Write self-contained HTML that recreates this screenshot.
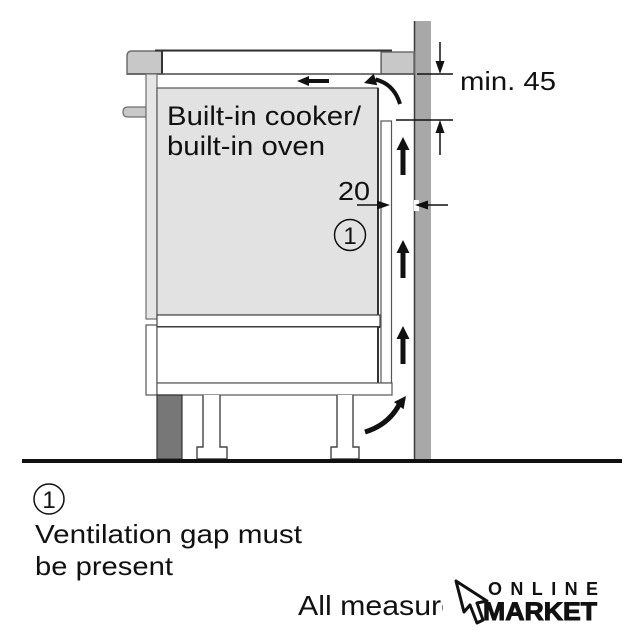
<!DOCTYPE html>
<html>
<head>
<meta charset="utf-8">
<style>
  html, body { margin: 0; padding: 0; background: #ffffff; }
  body { width: 642px; height: 640px; overflow: hidden; }
  svg { display: block; }
  text { font-family: "Liberation Sans", Arial, sans-serif; fill: #111; }
</style>
</head>
<body>
<svg width="642" height="640" viewBox="0 0 642 640" xmlns="http://www.w3.org/2000/svg">
  <rect x="0" y="0" width="642" height="640" fill="#ffffff"/>

  <!-- Wall -->
  <rect x="414" y="21" width="17" height="438" fill="#a8a8a8"/>
  <line x1="414.5" y1="21" x2="414.5" y2="459" stroke="#3a3a3a" stroke-width="1.5"/>
  <rect x="414" y="200" width="5" height="11" fill="#ffffff"/>

  <!-- Countertop left block (rounded) -->
  <path d="M132,51 H163 V74 H127 V56 Q127,51 132,51 Z" fill="#c8c8c8" stroke="#6e6e6e" stroke-width="1.5"/>
  <!-- Countertop right block -->
  <rect x="381" y="52" width="33" height="22" fill="#c8c8c8" stroke="#6e6e6e" stroke-width="1.5"/>
  <!-- Hob -->
  <rect x="162" y="51" width="219" height="23" fill="#ffffff" stroke="#555" stroke-width="1.2"/>
  <line x1="155" y1="50.5" x2="392" y2="50.5" stroke="#333" stroke-width="2"/>
  <line x1="162" y1="51" x2="162" y2="74" stroke="#333" stroke-width="2"/>
  <line x1="127" y1="74" x2="414" y2="74" stroke="#555" stroke-width="1.5"/>

  <!-- Handle -->
  <path d="M128,107 H146 V117 H128 Q123,117 123,112 Q123,107 128,107 Z" fill="#c8c8c8" stroke="#6e6e6e" stroke-width="1.2"/>

  <!-- Left side panel (upper) -->
  <rect x="146" y="74" width="11" height="245" fill="#e6e6e6" stroke="#6e6e6e" stroke-width="1.2"/>
  <!-- Left side panel (lower) -->
  <rect x="146" y="325" width="11" height="70" fill="#ffffff" stroke="#555" stroke-width="1.2"/>

  <!-- Oven body -->
  <rect x="157" y="88" width="221" height="227" fill="#e2e2e2" stroke="#555" stroke-width="1.2"/>
  <line x1="378" y1="88" x2="378" y2="383" stroke="#333" stroke-width="2"/>

  <!-- Bar under oven -->
  <rect x="157" y="315" width="223" height="12" fill="#ffffff" stroke="#444" stroke-width="1.2"/>
  <line x1="157" y1="327" x2="380" y2="327" stroke="#222" stroke-width="2"/>
  <!-- Drawer -->
  <rect x="157" y="327" width="221" height="56" fill="#ffffff" stroke="#555" stroke-width="1.2"/>
  <line x1="378" y1="327" x2="378" y2="383" stroke="#333" stroke-width="2"/>

  <!-- Right narrow panel -->
  <rect x="381" y="121" width="10.5" height="262" fill="#ffffff" stroke="#555" stroke-width="1.2"/>
  <!-- Base bar -->
  <rect x="157" y="383" width="235" height="12" fill="#ffffff" stroke="#555" stroke-width="1.2"/>

  <!-- Dark plinth -->
  <rect x="157" y="395" width="25" height="64" fill="#777777" stroke="#333" stroke-width="1.2"/>
  <!-- Legs -->
  <path d="M203,395 V447 H197 V459 H227 V447 H220 V395" fill="#ffffff" stroke="#444" stroke-width="1.4"/>
  <path d="M337,395 V447 H331 V459 H359 V447 H353 V395" fill="#ffffff" stroke="#444" stroke-width="1.4"/>

  <!-- Floor -->
  <rect x="22" y="459" width="600" height="4" fill="#111"/>

  <!-- Airflow arrows -->
  <polygon points="297,81 309,76 309,79 329,79 329,83 309,83 309,86" fill="#111"/>
  <path d="M400,104 Q394,84 375.5,79.5" fill="none" stroke="#111" stroke-width="4"/>
  <polygon points="364,83 377.2,85.3 373.8,73.7" fill="#111"/>

  <polygon points="403,137 409.5,150 405.5,150 405.5,175 400.5,175 400.5,150 396.5,150" fill="#111"/>
  <polygon points="403,240 409.5,253 405.5,253 405.5,278 400.5,278 400.5,253 396.5,253" fill="#111"/>
  <polygon points="403,326 409.5,339 405.5,339 405.5,364 400.5,364 400.5,339 396.5,339" fill="#111"/>

  <path d="M365,432 Q388,425 399,405" fill="none" stroke="#111" stroke-width="5"/>
  <polygon points="406,396 403.6,409.2 394,402" fill="#111"/>

  <!-- Dimension: min. 45 -->
  <line x1="417" y1="74" x2="453" y2="74" stroke="#111" stroke-width="1.5"/>
  <line x1="396" y1="120" x2="453" y2="120" stroke="#111" stroke-width="1.5"/>
  <line x1="440" y1="42" x2="440" y2="62" stroke="#111" stroke-width="1.5"/>
  <polygon points="440,74 435.5,61 444.5,61" fill="#111"/>
  <line x1="440" y1="155" x2="440" y2="132" stroke="#111" stroke-width="1.5"/>
  <polygon points="440,120 435.5,133 444.5,133" fill="#111"/>

  <!-- Dimension: 20 -->
  <line x1="357" y1="205" x2="379" y2="205" stroke="#111" stroke-width="1.5"/>
  <polygon points="390,205 377,200.5 377,209.5" fill="#111"/>
  <line x1="427" y1="205" x2="448" y2="205" stroke="#111" stroke-width="1.5"/>
  <polygon points="415,205 428,200.5 428,209.5" fill="#111"/>

  <!-- Labels -->
  <text x="167" y="125" font-size="27" textLength="194" lengthAdjust="spacingAndGlyphs">Built-in cooker/</text>
  <text x="167" y="155" font-size="27" textLength="158" lengthAdjust="spacingAndGlyphs">built-in oven</text>
  <text x="338" y="200" font-size="26" textLength="32" lengthAdjust="spacingAndGlyphs">20</text>
  <circle cx="350" cy="235" r="15.5" fill="none" stroke="#111" stroke-width="1.5"/>
  <text x="350" y="244" font-size="24" text-anchor="middle">1</text>

  <text x="460" y="90" font-size="26" textLength="96" lengthAdjust="spacingAndGlyphs">min. 45</text>

  <circle cx="49" cy="499" r="15" fill="none" stroke="#111" stroke-width="1.5"/>
  <text x="49" y="508" font-size="24" text-anchor="middle">1</text>
  <text x="35" y="543" font-size="26" textLength="267" lengthAdjust="spacingAndGlyphs">Ventilation gap must</text>
  <text x="35" y="575" font-size="26" textLength="138" lengthAdjust="spacingAndGlyphs">be present</text>

  <text x="298" y="615" font-size="28" textLength="160" lengthAdjust="spacingAndGlyphs">All measure</text>

  <!-- Logo -->
  <rect x="443" y="572" width="170" height="60" fill="#ffffff"/>
  <polygon points="456,581 464,612 470,605 477,623 483,620 477,603 487,601" fill="#ffffff" stroke="#111" stroke-width="3" stroke-linejoin="round"/>
  <text x="488" y="595" font-size="18" font-weight="bold" textLength="110" lengthAdjust="spacing">ONLINE</text>
  <text x="483" y="620" font-size="25" font-weight="bold" textLength="114" lengthAdjust="spacingAndGlyphs" stroke="#111" stroke-width="1">MARKET</text>
</svg>
</body>
</html>
